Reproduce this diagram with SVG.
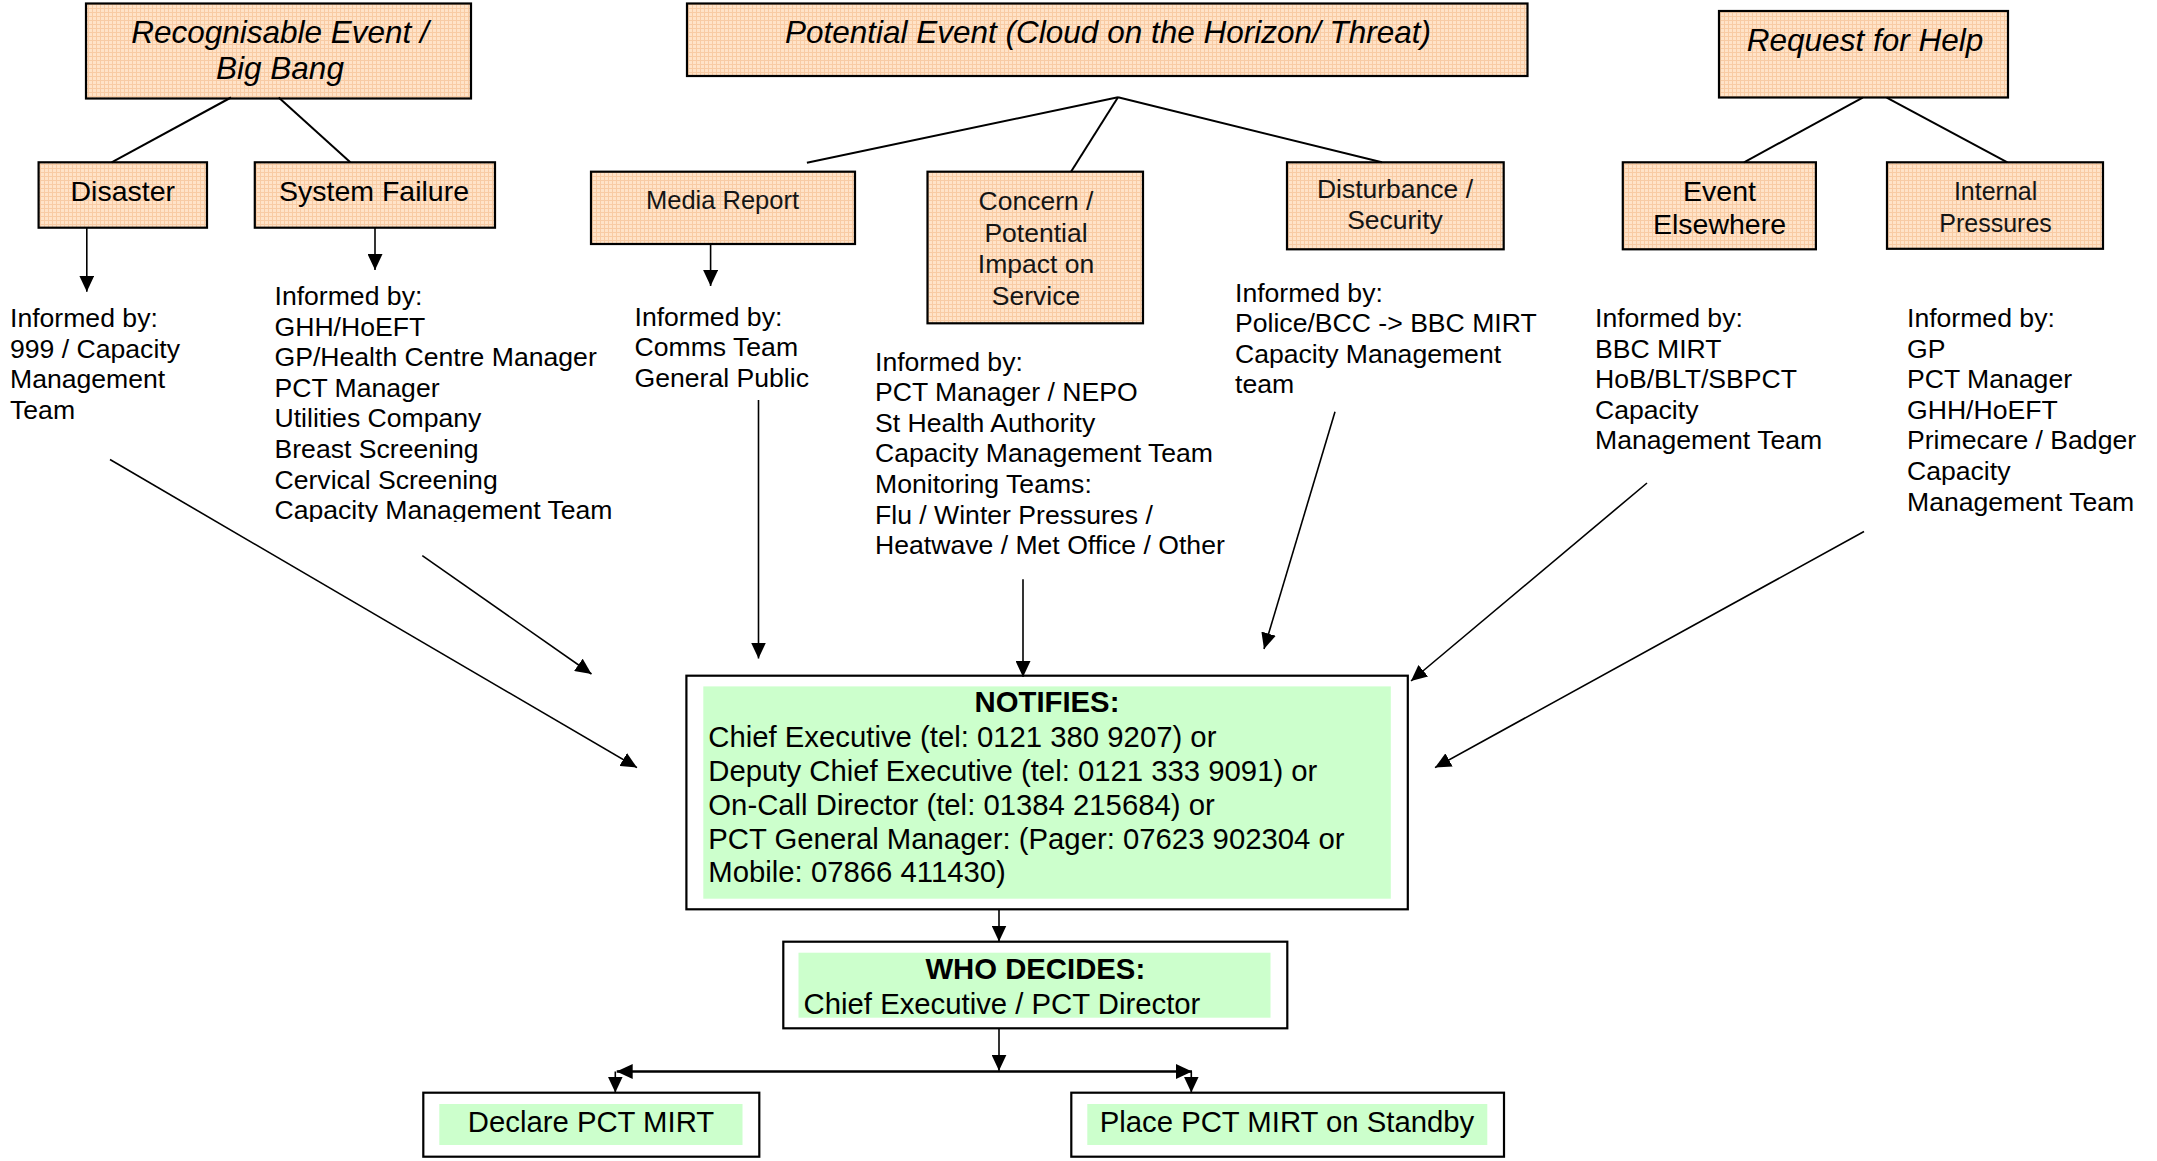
<svg xmlns="http://www.w3.org/2000/svg" width="2157" height="1161" viewBox="0 0 2157 1161">
<style>
text{font-family:"Liberation Sans",Arial,sans-serif;fill:#000}
.top{font-size:31.5px;font-style:italic;text-anchor:middle}
.l2{font-size:28.5px;text-anchor:middle}
.l2t{font-size:26.5px;text-anchor:middle;fill:#151515}
.inf{font-size:26.6px}
.bx{fill:url(#grid);stroke:#000;stroke-width:2.2}
.wb{fill:#fff;stroke:#000;stroke-width:2.2}
.gr{fill:#ccffcc}
.nt{font-size:29.3px}
.mid{text-anchor:middle}
.bold{font-weight:bold;text-anchor:middle}
.ln{stroke:#000;stroke-width:2;fill:none}
.ar{stroke:#000;stroke-width:1.6;fill:none;marker-end:url(#ah)}
</style>
<defs>
<pattern id="grid" width="4" height="4" patternUnits="userSpaceOnUse">
<rect width="4" height="4" fill="#ffe3c8"/>
<path d="M0,0.5H4M0.5,0V4" stroke="#f8cba4" stroke-width="1"/>
</pattern>
<marker id="ah" markerUnits="userSpaceOnUse" markerWidth="16" markerHeight="15" refX="16" refY="7.5" orient="auto">
<path d="M0,0L16,7.5L0,15z" fill="#000"/>
</marker>
<clipPath id="clipSF"><rect x="260" y="270" width="400" height="252"/></clipPath>
</defs>

<g id="recognisable-event">
<rect class="bx" x="86" y="3.5" width="385" height="95"/>
<text class="top" x="280" y="43">Recognisable Event /</text>
<text class="top" x="280" y="79">Big Bang</text>
</g>
<g id="potential-event">
<rect class="bx" x="687" y="3.5" width="840.5" height="72.5"/>
<text class="top" x="1108" y="43">Potential Event (Cloud on the Horizon/ Threat)</text>
</g>
<g id="request-for-help">
<rect class="bx" x="1719" y="11" width="289" height="86.5"/>
<text class="top" x="1865" y="51">Request for Help</text>
</g>

<g id="disaster">
<rect class="bx" x="38.6" y="162.3" width="168.4" height="65.4"/>
<text class="l2" x="122.8" y="201">Disaster</text>
</g>
<g id="system-failure">
<rect class="bx" x="254.8" y="162.3" width="240.2" height="65.4"/>
<text class="l2" x="374" y="201">System Failure</text>
</g>
<g id="media-report">
<rect class="bx" x="591" y="171.7" width="264" height="72.3"/>
<text class="l2t" x="722.5" y="208.5" style="font-size:25.5px">Media Report</text>
</g>
<g id="concern">
<rect class="bx" x="927.5" y="171.7" width="215.5" height="151.6"/>
<text class="l2t" x="1036" y="209.8">Concern /</text>
<text class="l2t" x="1036" y="241.5">Potential</text>
<text class="l2t" x="1036" y="273.2">Impact on</text>
<text class="l2t" x="1036" y="304.8">Service</text>
</g>
<g id="disturbance">
<rect class="bx" x="1287" y="162.3" width="216.7" height="87"/>
<text class="l2t" x="1395" y="198">Disturbance /</text>
<text class="l2t" x="1395" y="228.5">Security</text>
</g>
<g id="event-elsewhere">
<rect class="bx" x="1622.8" y="162.3" width="193.1" height="87"/>
<text class="l2" x="1719.5" y="201.3">Event</text>
<text class="l2" x="1719.5" y="234.3">Elsewhere</text>
</g>
<g id="internal-pressures">
<rect class="bx" x="1887" y="162.3" width="216" height="86.5"/>
<text class="l2t" x="1995.6" y="199.8" style="font-size:25px">Internal</text>
<text class="l2t" x="1995.6" y="232" style="font-size:25px">Pressures</text>
</g>

<g id="informed-disaster">
<text class="inf" x="10" y="327">Informed by:</text>
<text class="inf" x="10" y="357.6">999 / Capacity</text>
<text class="inf" x="10" y="388.2">Management</text>
<text class="inf" x="10" y="418.8">Team</text>
</g>
<g id="informed-system-failure" clip-path="url(#clipSF)">
<text class="inf" x="274.5" y="305">Informed by:</text>
<text class="inf" x="274.5" y="335.6">GHH/HoEFT</text>
<text class="inf" x="274.5" y="366.2">GP/Health Centre Manager</text>
<text class="inf" x="274.5" y="396.8">PCT Manager</text>
<text class="inf" x="274.5" y="427.4">Utilities Company</text>
<text class="inf" x="274.5" y="458">Breast Screening</text>
<text class="inf" x="274.5" y="488.6">Cervical Screening</text>
<text class="inf" x="274.5" y="519.2">Capacity Management Team</text>
</g>
<g id="informed-media">
<text class="inf" x="634.5" y="325.5">Informed by:</text>
<text class="inf" x="634.5" y="356">Comms Team</text>
<text class="inf" x="634.5" y="386.5">General Public</text>
</g>
<g id="informed-concern">
<text class="inf" x="875" y="370.5">Informed by:</text>
<text class="inf" x="875" y="401.1">PCT Manager / NEPO</text>
<text class="inf" x="875" y="431.7">St Health Authority</text>
<text class="inf" x="875" y="462.3">Capacity Management Team</text>
<text class="inf" x="875" y="492.9">Monitoring Teams:</text>
<text class="inf" x="875" y="523.5">Flu / Winter Pressures /</text>
<text class="inf" x="875" y="554.1">Heatwave / Met Office / Other</text>
</g>
<g id="informed-disturbance">
<text class="inf" x="1235" y="301.5">Informed by:</text>
<text class="inf" x="1235" y="332.1">Police/BCC -&gt; BBC MIRT</text>
<text class="inf" x="1235" y="362.7">Capacity Management</text>
<text class="inf" x="1235" y="393.3">team</text>
</g>
<g id="informed-event-elsewhere">
<text class="inf" x="1595" y="327">Informed by:</text>
<text class="inf" x="1595" y="357.6">BBC MIRT</text>
<text class="inf" x="1595" y="388.2">HoB/BLT/SBPCT</text>
<text class="inf" x="1595" y="418.8">Capacity</text>
<text class="inf" x="1595" y="449.4">Management Team</text>
</g>
<g id="informed-internal">
<text class="inf" x="1907" y="327">Informed by:</text>
<text class="inf" x="1907" y="357.6">GP</text>
<text class="inf" x="1907" y="388.2">PCT Manager</text>
<text class="inf" x="1907" y="418.8">GHH/HoEFT</text>
<text class="inf" x="1907" y="449.4">Primecare / Badger</text>
<text class="inf" x="1907" y="480">Capacity</text>
<text class="inf" x="1907" y="510.6">Management Team</text>
</g>

<g id="notifies">
<rect class="wb" x="686.4" y="675.7" width="721.4" height="233.6"/>
<rect class="gr" x="703.3" y="686.4" width="687.5" height="212.3"/>
<text class="nt bold" x="1047" y="711.7">NOTIFIES:</text>
<text class="nt" x="708.3" y="746.5">Chief Executive (tel: 0121 380 9207) or</text>
<text class="nt" x="708.3" y="780.5">Deputy Chief Executive (tel: 0121 333 9091) or</text>
<text class="nt" x="708.3" y="814.5">On-Call Director (tel: 01384 215684) or</text>
<text class="nt" x="708.3" y="848.5">PCT General Manager: (Pager: 07623 902304 or</text>
<text class="nt" x="708.3" y="882">Mobile: 07866 411430)</text>
</g>
<g id="who-decides">
<rect class="wb" x="783.3" y="941.7" width="504" height="86.6"/>
<rect class="gr" x="798.5" y="952.7" width="472" height="65"/>
<text class="nt bold" x="1035.3" y="979.3">WHO DECIDES:</text>
<text class="nt" x="803.6" y="1013.8">Chief Executive / PCT Director</text>
</g>
<g id="declare">
<rect class="wb" x="423.3" y="1092.7" width="336" height="64"/>
<rect class="gr" x="439.3" y="1104" width="303.2" height="41"/>
<text class="nt mid" x="591" y="1132">Declare PCT MIRT</text>
</g>
<g id="standby">
<rect class="wb" x="1071.3" y="1092.7" width="432.7" height="64"/>
<rect class="gr" x="1087.3" y="1104" width="400" height="41"/>
<text class="nt mid" x="1287" y="1132">Place PCT MIRT on Standby</text>
</g>

<g id="connectors">
<line class="ln" x1="231" y1="97.5" x2="111.6" y2="162.3"/>
<line class="ln" x1="278.7" y1="97.5" x2="350.3" y2="162.3"/>
<line class="ln" x1="1118" y1="97.3" x2="806.9" y2="162.7"/>
<line class="ln" x1="1118" y1="97.3" x2="1071" y2="171.7"/>
<line class="ln" x1="1118" y1="97.3" x2="1381.9" y2="162.3"/>
<line class="ln" x1="1862.7" y1="97.7" x2="1744" y2="162.3"/>
<line class="ln" x1="1886.7" y1="97.7" x2="2007.4" y2="162.3"/>
<line class="ar" x1="86.8" y1="228" x2="86.8" y2="291.7"/>
<line class="ar" x1="375" y1="228" x2="375" y2="270"/>
<line class="ar" x1="710.6" y1="244.5" x2="710.6" y2="286"/>
<line class="ar" x1="110" y1="459.5" x2="637" y2="767.6"/>
<line class="ar" x1="422.3" y1="555.7" x2="591.5" y2="674"/>
<line class="ar" x1="758.5" y1="400" x2="758.5" y2="658.5"/>
<line class="ar" x1="1023" y1="579.3" x2="1023" y2="677"/>
<line class="ar" x1="1335" y1="411.7" x2="1264" y2="649"/>
<line class="ar" x1="1647" y1="483" x2="1411" y2="681"/>
<line class="ar" x1="1864" y1="531.5" x2="1435" y2="767.6"/>
<line class="ar" x1="999" y1="910" x2="999" y2="941.5"/>
<line class="ar" x1="999" y1="1028.5" x2="999" y2="1070.7"/>
<line class="ar" x1="999" y1="1071.5" x2="616.7" y2="1071.5" style="stroke-width:2.5"/>
<line class="ar" x1="999" y1="1071.5" x2="1192" y2="1071.5" style="stroke-width:2.5"/>
<line class="ar" x1="615.3" y1="1071.5" x2="615.3" y2="1092.5"/>
<line class="ar" x1="1191.3" y1="1071.5" x2="1191.3" y2="1092.5"/>
</g>
</svg>
